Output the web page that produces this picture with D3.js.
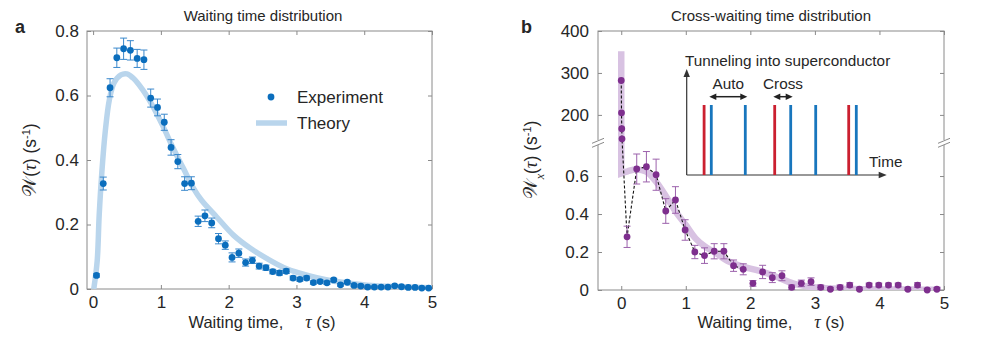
<!DOCTYPE html>
<html><head><meta charset="utf-8">
<script src="https://cdn.jsdelivr.net/npm/d3@7"></script>
<style>
body{margin:0;background:#fff}
svg{display:block}
text{font-family:"Liberation Sans",Arial,Helvetica,sans-serif;fill:#262626}
</style>
</head><body>
<svg id="c" width="981" height="349"></svg>
<script>
// ---------------- DATA ----------------
const xTicks = [0, 1, 2, 3, 4, 5];
const yTicksA = [0, 0.2, 0.4, 0.6, 0.8];
const yTicksBLow = [0, 0.2, 0.4, 0.6];
const yTicksBHigh = [200, 300, 400];

// Panel a: waiting time distribution (experiment)
const expX = [0.05,0.15,0.25,0.35,0.45,0.55,0.65,0.75,0.85,0.95,1.05,1.15,1.25,1.35,1.45,1.55,1.65,1.75,1.85,1.95,
  2.05,2.15,2.25,2.35,2.45,2.55,2.65,2.75,2.85,2.95,3.05,3.15,3.25,3.35,3.45,3.55,3.65,3.75,3.85,3.95,
  4.05,4.15,4.25,4.35,4.45,4.55,4.65,4.75,4.85,4.95];
const expY = [0.042,0.327,0.624,0.717,0.745,0.740,0.715,0.711,0.592,0.563,0.517,0.439,0.395,0.327,0.328,0.210,0.227,0.205,0.156,0.136,
  0.098,0.111,0.082,0.089,0.071,0.066,0.054,0.050,0.055,0.034,0.030,0.034,0.020,0.023,0.019,0.028,0.013,0.021,0.011,0.009,
  0.006,0.006,0.006,0.006,0.010,0.007,0.005,0.005,0.003,0.003];
const expErr = [0.005,0.02,0.028,0.03,0.033,0.03,0.028,0.03,0.028,0.026,0.025,0.024,0.022,0.021,0.02,0.016,0.018,0.015,0.016,0.013,
  0.014,0.013,0.011,0.01,0.009,0.008,0.007,0.007,0.007,0.006,0.006,0.006,0.005,0.005,0.005,0.005,0.004,0.004,0.004,0.004,
  0.003,0.003,0.003,0.003,0.003,0.003,0.002,0.002,0.002,0.002];
// Panel a: theory
const theoryAX = [0.01,0.06,0.09,0.13,0.18,0.24,0.31,0.41,0.5,0.59,0.73,0.88,1.03,1.18,1.33,1.48,1.6,1.82,2.07,2.32,2.56,2.81,3.05,3.3,3.54,3.79,4.04,4.53,5.0];
const theoryAY = [0,0.086,0.23,0.365,0.49,0.587,0.64,0.664,0.667,0.654,0.618,0.567,0.505,0.437,0.375,0.313,0.275,0.224,0.167,0.126,0.095,0.067,0.049,0.035,0.025,0.018,0.012,0.007,0.004];

// Panel b: cross-waiting time distribution
const crossZeroX = [0, 0.004, 0.008, 0.012];
const crossZeroY = [282, 205, 167, 143];
const crossX = [0.09,0.24,0.39,0.54,0.69,0.84,0.99,1.14,1.29,1.44,1.59,1.74,1.89,2.04,2.19,2.34,2.49,2.64,2.79,2.94,3.09,3.24,3.39,3.54,3.69,3.84,3.99,4.14,4.29,4.44,4.59,4.74,4.89];
const crossY = [0.28,0.637,0.649,0.607,0.416,0.474,0.316,0.2,0.181,0.204,0.204,0.128,0.109,0.035,0.095,0.065,0.075,0.014,0.035,0.044,0.014,0.004,0.014,0.026,0.004,0.026,0.026,0.026,0.026,0.004,0.026,0.0,0.004];
const crossErr = [0.056,0.079,0.08,0.082,0.065,0.07,0.054,0.035,0.041,0.04,0.04,0.03,0.029,0.015,0.035,0.026,0.026,0.012,0.017,0.02,0.012,0.01,0.012,0.012,0.01,0.01,0.01,0.01,0.01,0.008,0.012,0.008,0.008];
const dashedUntil = 1.9;
const theoryBTop = 352;
const theoryBX = [0,0.1,0.23,0.39,0.54,0.7,0.85,1.0,1.15,1.3,1.46,1.67,1.88,2.19,2.4,2.66,2.92,3.18,3.6,4.0,4.5,4.95];
const theoryBY = [0.614,0.625,0.635,0.623,0.57,0.49,0.41,0.342,0.272,0.228,0.196,0.149,0.123,0.096,0.07,0.035,0.017,0.009,0.005,0.003,0.002,0.001];

// Inset (schematic time axis, 0..1)
const insetRed = [0.087, 0.44, 0.81];
const insetBlue = [0.123, 0.293, 0.52, 0.645, 0.848];
const insetAuto = [0.113, 0.303];
const insetCross = [0.433, 0.53];

// ---------------- STYLE ----------------
const AX_COL = "#8a8a8a";
const BLUE = "#0b6ebd", BLUE_ERR = "#3a88cc", BLUE_TH = "#b9d5ec";
const PURP = "#7e2f8e", PURP_ERR = "#9c62ac", PURP_TH = "#d8c2e2";
const TICK_FS = 17;

const svg = d3.select("#c");

function styleAxis(g){
  g.select(".domain").remove();
  g.selectAll(".tick line").attr("stroke", AX_COL);
  g.selectAll(".tick text").attr("font-size", TICK_FS).attr("fill", "#262626")
    .attr("font-family", '"Liberation Sans", Arial, sans-serif');
}

// ================= PANEL A =================
const A = {l:87, r:432, t:31, b:289};
const xA = d3.scaleLinear().domain([-0.09, 5]).range([A.l, A.r]);
const yA = d3.scaleLinear().domain([0, 0.8]).range([A.b, A.t]);

svg.append("defs").call(d=>{
  d.append("clipPath").attr("id","clipA").append("rect").attr("x",A.l).attr("y",A.t).attr("width",A.r-A.l).attr("height",A.b-A.t);
  d.append("clipPath").attr("id","clipB").append("rect").attr("x",598).attr("y",31).attr("width",346).attr("height",259);
});

svg.append("g").attr("transform",`translate(0,${A.b})`)
  .call(d3.axisBottom(xA).tickValues(xTicks).tickSize(-4).tickPadding(7).tickFormat(d3.format("d"))).call(styleAxis);
svg.append("g").attr("transform",`translate(0,${A.t})`)
  .call(d3.axisTop(xA).tickValues(xTicks).tickSize(-4).tickFormat("")).call(styleAxis);
svg.append("g").attr("transform",`translate(${A.l},0)`)
  .call(d3.axisLeft(yA).tickValues(yTicksA).tickSize(-4).tickPadding(8).tickFormat(d=> d===0?"0":d3.format(".1f")(d))).call(styleAxis);
svg.append("g").attr("transform",`translate(${A.r},0)`)
  .call(d3.axisRight(yA).tickValues(yTicksA).tickSize(-4).tickFormat("")).call(styleAxis);
svg.append("rect").attr("x",A.l).attr("y",A.t).attr("width",A.r-A.l).attr("height",A.b-A.t)
  .attr("fill","none").attr("stroke",AX_COL).attr("stroke-width",1);

// theory
svg.append("path").attr("clip-path","url(#clipA)")
  .attr("d", d3.line().x(i=>xA(theoryAX[i])).y(i=>yA(theoryAY[i])).curve(d3.curveCatmullRom.alpha(0.5))(d3.range(theoryAX.length)))
  .attr("fill","none").attr("stroke",BLUE_TH).attr("stroke-width",5.5);

// error bars
const gA = svg.append("g");
expX.forEach((x,i)=>{
  const cx = xA(x), y0 = yA(expY[i]-expErr[i]), y1 = yA(expY[i]+expErr[i]);
  gA.append("line").attr("x1",cx).attr("x2",cx).attr("y1",y0).attr("y2",y1).attr("stroke",BLUE_ERR).attr("stroke-width",1);
  [y0,y1].forEach(yy=> gA.append("line").attr("x1",cx-3.5).attr("x2",cx+3.5).attr("y1",yy).attr("y2",yy).attr("stroke",BLUE_ERR).attr("stroke-width",1));
});
gA.selectAll("circle").data(expX).join("circle")
  .attr("cx",d=>xA(d)).attr("cy",(d,i)=>yA(expY[i])).attr("r",3.4).attr("fill",BLUE);

// legend
svg.append("circle").attr("cx",271).attr("cy",97).attr("r",3.4).attr("fill",BLUE);
svg.append("text").attr("x",297).attr("y",103).attr("font-size",17).text("Experiment");
svg.append("line").attr("x1",256).attr("x2",287).attr("y1",123).attr("y2",123).attr("stroke",BLUE_TH).attr("stroke-width",5.5);
svg.append("text").attr("x",297).attr("y",129).attr("font-size",17).text("Theory");

// title & labels
svg.append("text").attr("x",263).attr("y",21).attr("text-anchor","middle").attr("font-size",15).text("Waiting time distribution");
function xLabel(cx){
  const t = svg.append("text").attr("x",cx).attr("y",328).attr("text-anchor","middle").attr("font-size",16.5);
  t.append("tspan").text("Waiting time,");
  t.append("tspan").attr("dx",22).attr("font-family",'"Liberation Serif", "DejaVu Serif", serif').attr("font-style","italic").attr("font-size",18).text("τ");
  t.append("tspan").text(" (s)");
}
xLabel(262);
function yLabel(cx, cy, sub){
  const t = svg.append("text").attr("transform",`translate(${cx},${cy}) rotate(-90)`).attr("text-anchor","middle").attr("font-size",17.5);
  t.append("tspan").attr("font-family",'"DejaVu Serif", "DejaVu Sans", serif').attr("font-size",19).text("𝒲");
  if(sub){ t.append("tspan").attr("baseline-shift","sub").attr("font-size",12).attr("font-style","italic").attr("font-family",'"Liberation Serif", serif').text(sub); }
  t.append("tspan").text("(");
  t.append("tspan").attr("font-family",'"Liberation Serif", "DejaVu Serif", serif').attr("font-style","italic").attr("font-size",18.5).text("τ");
  t.append("tspan").text(") (s");
  t.append("tspan").attr("baseline-shift","super").attr("font-size",11).text("-1");
  t.append("tspan").text(")");
}
yLabel(36, 160, null);
svg.append("text").attr("x",15).attr("y",33).attr("font-size",18).attr("font-weight","bold").attr("fill","#000").text("a");

// ================= PANEL B =================
const B = {l:598, r:944, t:31, b:290, brk:143};
const xB = d3.scaleLinear().domain([-0.36, 5]).range([B.l, B.r]);
const yLow = d3.scaleLinear().domain([0, 0.774]).range([B.b, B.brk]);
const yUp = d3.scaleLinear().domain([133, 400]).range([B.brk, B.t]);
const yB = v => v > 0.774 ? yUp(v) : yLow(v);

svg.append("g").attr("transform",`translate(0,${B.b})`)
  .call(d3.axisBottom(xB).tickValues(xTicks).tickSize(-4).tickPadding(7).tickFormat(d3.format("d"))).call(styleAxis);
svg.append("g").attr("transform",`translate(0,${B.t})`)
  .call(d3.axisTop(xB).tickValues(xTicks).tickSize(-4).tickFormat("")).call(styleAxis);
svg.append("g").attr("transform",`translate(${B.l},0)`)
  .call(d3.axisLeft(yLow).tickValues(yTicksBLow).tickSize(-4).tickPadding(9).tickFormat(d=> d===0?"0":d3.format(".1f")(d))).call(styleAxis);
svg.append("g").attr("transform",`translate(${B.l},0)`)
  .call(d3.axisLeft(yUp).tickValues(yTicksBHigh).tickSize(-4).tickPadding(9).tickFormat(d3.format("d"))).call(styleAxis);
svg.append("g").attr("transform",`translate(${B.r},0)`)
  .call(d3.axisRight(yLow).tickValues(yTicksBLow).tickSize(-4).tickFormat("")).call(styleAxis);
svg.append("g").attr("transform",`translate(${B.r},0)`)
  .call(d3.axisRight(yUp).tickValues(yTicksBHigh).tickSize(-4).tickFormat("")).call(styleAxis);
svg.append("rect").attr("x",B.l).attr("y",B.t).attr("width",B.r-B.l).attr("height",B.b-B.t)
  .attr("fill","none").attr("stroke",AX_COL).attr("stroke-width",1);

// break marks
[B.l, B.r].forEach(sx=>{
  svg.append("rect").attr("x",sx-2).attr("y",B.brk-3).attr("width",4).attr("height",5).attr("fill","#fff");
  [-2.2, 1.8].forEach(o=> svg.append("line").attr("x1",sx-6).attr("x2",sx+6).attr("y1",B.brk+o+2.5).attr("y2",B.brk+o-2.5)
    .attr("stroke",AX_COL).attr("stroke-width",1));
});

// theory (vertical part + curve)
const curveStr = d3.line().x(i=>xB(theoryBX[i])).y(i=>yLow(theoryBY[i])).curve(d3.curveCatmullRom.alpha(0.5))(d3.range(theoryBX.length));
svg.append("path").attr("clip-path","url(#clipB)")
  .attr("d", `M${xB(0)},${yUp(theoryBTop)}L` + curveStr.slice(1))
  .attr("fill","none").attr("stroke",PURP_TH).attr("stroke-width",6.5);

// dashed connecting line
const allX = crossZeroX.concat(crossX), allY = crossZeroY.concat(crossY);
const dIdx = d3.range(allX.length).filter(i=> allX[i] <= dashedUntil);
svg.append("path").attr("d", d3.line().x(i=>xB(allX[i])).y(i=>yB(allY[i]))(dIdx))
  .attr("fill","none").attr("stroke","#111").attr("stroke-width",1.1).attr("stroke-dasharray","3,2");

const gB = svg.append("g");
crossX.forEach((x,i)=>{
  const cx = xB(x), y0 = yLow(Math.max(0,crossY[i]-crossErr[i])), y1 = yLow(crossY[i]+crossErr[i]);
  gB.append("line").attr("x1",cx).attr("x2",cx).attr("y1",y0).attr("y2",y1).attr("stroke",PURP_ERR).attr("stroke-width",1);
  [y0,y1].forEach(yy=> gB.append("line").attr("x1",cx-3.5).attr("x2",cx+3.5).attr("y1",yy).attr("y2",yy).attr("stroke",PURP_ERR).attr("stroke-width",1));
});
gB.selectAll("circle").data(allX).join("circle")
  .attr("cx",d=>xB(d)).attr("cy",(d,i)=>yB(allY[i])).attr("r",3.4).attr("fill",PURP);

// inset
const xI = d3.scaleLinear().domain([0,1]).range([686.7, 886.7]);
const yI = d3.scaleLinear().domain([0,1]).range([175, 105]);
const gI = svg.append("g");
gI.append("line").attr("x1",xI(0)).attr("x2",xI(1)-6).attr("y1",yI(0)).attr("y2",yI(0)).attr("stroke","#333").attr("stroke-width",1.2);
gI.append("path").attr("d",`M${xI(1)},${yI(0)}l-8,-3.2v6.4z`).attr("fill","#333");
gI.append("line").attr("x1",xI(0)).attr("x2",xI(0)).attr("y1",yI(0)).attr("y2",76).attr("stroke","#333").attr("stroke-width",1.2);
gI.append("path").attr("d",`M${xI(0)},69l-3.2,8h6.4z`).attr("fill","#333");
insetRed.forEach(v=> gI.append("line").attr("x1",xI(v)).attr("x2",xI(v)).attr("y1",yI(0)).attr("y2",yI(1)).attr("stroke","#cb2030").attr("stroke-width",2.8));
insetBlue.forEach(v=> gI.append("line").attr("x1",xI(v)).attr("x2",xI(v)).attr("y1",yI(0)).attr("y2",yI(1)).attr("stroke","#1876bd").attr("stroke-width",2.8));
function dblArrow(a,b,y){
  const x1 = xI(a), x2 = xI(b);
  gI.append("line").attr("x1",x1+5).attr("x2",x2-5).attr("y1",y).attr("y2",y).attr("stroke","#222").attr("stroke-width",1.5);
  gI.append("path").attr("d",`M${x1},${y}l7,-3.2v6.4z`).attr("fill","#222");
  gI.append("path").attr("d",`M${x2},${y}l-7,-3.2v6.4z`).attr("fill","#222");
}
dblArrow(insetAuto[0], insetAuto[1], 96.7);
dblArrow(insetCross[0], insetCross[1], 96.7);
gI.append("text").attr("x",685).attr("y",65.5).attr("font-size",15.3).text("Tunneling into superconductor");
gI.append("text").attr("x",xI((insetAuto[0]+insetAuto[1])/2)).attr("y",89).attr("text-anchor","middle").attr("font-size",15.3).text("Auto");
gI.append("text").attr("x",xI((insetCross[0]+insetCross[1])/2)).attr("y",89).attr("text-anchor","middle").attr("font-size",15.3).text("Cross");
gI.append("text").attr("x",869).attr("y",166.5).attr("font-size",15.3).text("Time");

svg.append("text").attr("x",771).attr("y",21).attr("text-anchor","middle").attr("font-size",15).text("Cross-waiting time distribution");
xLabel(771);
yLabel(537, 160, "x");
svg.append("text").attr("x",521).attr("y",33).attr("font-size",18).attr("font-weight","bold").attr("fill","#000").text("b");
</script>
</body></html>
